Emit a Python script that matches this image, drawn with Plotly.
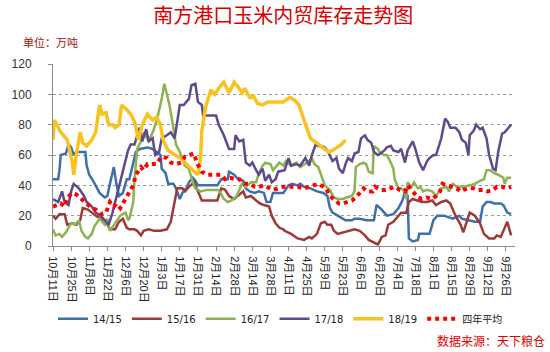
import plotly.graph_objects as go

# x = days after 10月11日, y = 万吨
tick_days = [0, 14, 28, 42, 56, 70, 84, 98, 112, 126, 140, 154, 168, 182, 196, 210, 224, 238, 252, 266, 280, 294, 308, 322, 336, 350]
tick_labels = ["10月11日", "10月25日", "11月8日", "11月22日", "12月6日", "12月20日", "1月3日", "1月17日", "1月31日",
               "2月14日", "2月28日", "3月14日", "3月28日", "4月11日", "4月25日", "5月9日", "5月23日", "6月6日",
               "6月20日", "7月4日", "7月18日", "8月1日", "8月15日", "8月29日", "9月12日", "9月26日"]

s1415 = [(0,44),(4,44),(5,50),(6,60),(10,61),(12,67),(14,65),(16,60),(18,62),(25,62),(26,53),(28,47),(31,43),(33,40),(36,35),(40,32),(42,33),(44,41),(47,52),(49,41),(51,33),(54,35),(57,44),(59,44),(61,51),(64,62),(67,64),(73,65),(77,64),(80,62),(83,60),(84,51),(87,48),(89,41),(93,41),(95,38),(98,31),(100,35),(103,38),(105,42),(108,45),(110,43),(112,40),(119,40),(127,40),(130,44),(135,44),(136,49),(140,47),(143,44),(147,43),(149,38),(152,36),(156,35),(159,36),(163,35),(165,29),(168,29),(170,35),(178,35),(182,40),(185,41),(189,40),(191,41),(194,39),(199,38),(204,36),(209,35),(212,33),(214,25),(216,22),(220,20),(224,18),(226,17),(231,17),(233,18),(237,18),(242,17),(248,17),(250,27),(254,24),(258,20),(263,21),(267,25),(270,30),(272,36),(274,33),(275,5),(278,3),(282,4),(283,8),(291,8),(294,17),(297,20),(302,20),(305,19),(309,18),(314,20),(316,18),(321,17),(326,16),(330,16),(332,26),(335,29),(338,29),(341,28),(346,28),(348,27),(351,22),(354,21)]

s1516 = [(0,20),(2,18),(5,21),(9,21),(11,14),(15,15),(18,14),(21,17),(23,25),(27,24),(30,22),(33,20),(37,18),(41,16),(44,11),(48,11),(51,16),(54,18),(57,12),(59,11),(63,11),(65,10),(68,7),(70,10),(74,11),(78,10),(83,10),(88,11),(91,16),(94,29),(96,38),(100,38),(102,36),(105,39),(109,42),(111,38),(115,30),(127,30),(130,38),(133,37),(136,33),(140,31),(143,33),(147,36),(149,32),(153,33),(157,30),(160,28),(163,27),(167,26),(169,20),(172,15),(175,12),(178,11),(179,10),(184,8),(189,5),(194,4),(198,6),(200,5),(204,8),(207,15),(210,16),(212,14),(215,14),(217,10),(220,8),(224,9),(228,10),(233,11),(237,10),(241,7),(244,4),(248,2),(251,1),(253,4),(254,6),(257,7),(259,14),(263,16),(265,18),(269,22),(273,22),(275,29),(278,31),(282,30),(285,29),(289,29),(293,30),(296,27),(300,29),(304,30),(307,28),(311,20),(315,14),(317,9),(320,16),(322,22),(326,20),(330,15),(333,8),(337,5),(341,5),(343,7),(346,6),(348,10),(351,16),(353,10),(354,7)]

s1617 = [(0,11),(2,7),(5,8),(7,6),(10,9),(14,15),(17,14),(20,17),(22,10),(25,6),(27,5),(30,8),(32,13),(36,18),(40,14),(42,18),(44,10),(48,15),(52,20),(56,22),(58,17),(59,18),(62,29),(63,44),(65,64),(68,69),(70,75),(74,69),(78,77),(81,86),(84,97),(86,107),(88,100),(90,93),(93,78),(95,67),(98,62),(100,58),(102,53),(105,51),(108,42),(110,38),(114,36),(119,37),(128,37),(132,31),(135,29),(138,30),(142,33),(146,41),(149,39),(153,42),(157,42),(159,48),(162,53),(164,55),(168,54),(170,50),(173,53),(175,55),(178,53),(180,56),(184,53),(188,55),(191,52),(195,54),(198,56),(200,58),(202,54),(205,52),(207,47),(210,40),(214,37),(217,32),(220,31),(224,31),(227,32),(231,33),(233,36),(234,52),(237,54),(240,55),(242,54),(244,49),(247,48),(248,66),(251,64),(253,61),(256,60),(258,60),(261,55),(263,51),(264,44),(267,38),(269,38),(272,36),(273,31),(274,42),(277,39),(279,42),(282,38),(284,39),(286,36),(289,37),(293,36),(296,33),(300,38),(304,39),(306,36),(309,41),(312,39),(317,39),(322,40),(326,41),(330,43),(333,44),(335,50),(338,50),(341,48),(344,47),(348,45),(349,41),(351,45),(354,45)]

s1718 = [(0,31),(4,29),(7,36),(9,29),(12,27),(14,36),(16,41),(20,38),(24,33),(26,29),(30,26),(33,22),(37,20),(41,16),(43,14),(46,22),(48,29),(52,42),(56,55),(58,63),(60,67),(63,67),(67,78),(69,69),(72,77),(74,69),(77,71),(79,60),(82,62),(84,71),(88,73),(91,75),(94,71),(96,82),(98,93),(101,93),(105,97),(107,106),(110,107),(112,95),(115,93),(116,86),(126,86),(128,80),(132,73),(136,64),(140,64),(141,73),(144,69),(147,70),(149,55),(152,53),(154,55),(157,50),(159,47),(162,51),(164,43),(167,47),(169,42),(172,44),(174,49),(179,50),(182,58),(184,53),(188,54),(191,53),(195,58),(198,53),(200,60),(203,67),(205,66),(207,66),(210,65),(212,63),(216,56),(219,58),(221,51),(224,48),(226,54),(228,58),(231,56),(233,61),(236,62),(238,71),(241,73),(243,70),(246,68),(248,62),(251,60),(253,61),(256,63),(258,65),(261,66),(263,63),(267,62),(269,64),(272,55),(274,63),(278,69),(280,64),(283,55),(286,50),(289,56),(291,58),(294,60),(296,60),(300,71),(303,84),(305,82),(307,78),(311,78),(314,75),(316,70),(319,68),(321,60),(322,73),(325,76),(327,80),(330,77),(332,78),(335,71),(337,60),(340,51),(342,50),(344,62),(347,74),(349,75),(352,78),(354,80)]

s1819 = [(0,70),(1,83),(6,75),(11,70),(15,55),(16,47),(18,60),(21,75),(23,68),(26,66),(30,70),(33,75),(36,93),(38,87),(41,88),(43,80),(46,80),(48,78),(51,80),(53,93),(57,90),(60,87),(63,82),(66,70),(69,80),(73,87),(77,83),(80,85),(83,80),(85,70),(89,63),(93,61),(96,59),(100,57),(104,53),(108,50),(110,49),(112,47),(114,58),(115,76),(118,92),(122,103),(125,100),(128,104),(132,108),(136,101),(140,108),(143,105),(146,101),(148,104),(152,98),(155,99),(158,94),(162,93),(166,95),(172,95),(178,95),(183,98),(187,96),(190,93),(193,85),(196,78),(199,71),(202,69),(206,67),(210,64),(213,62),(216,63),(220,65),(223,67),(226,70)]

avg4 = [(0,26),(4,27),(6,28),(9,26),(11,32),(15,35),(18,34),(22,31),(26,28),(30,25),(33,24),(37,21),(41,22),(44,29),(47,26),(49,28),(52,25),(54,28),(57,33),(59,36),(62,40),(64,47),(68,52),(70,50),(73,54),(80,54),(84,59),(88,58),(91,55),(95,54),(99,55),(102,59),(106,60),(109,61),(111,55),(115,49),(119,47),(130,47),(133,44),(137,45),(141,44),(144,44),(148,41),(152,41),(156,39),(159,39),(163,40),(167,38),(170,37),(174,38),(178,39),(189,39),(194,38),(198,39),(201,40),(205,41),(209,39),(211,38),(214,33),(217,31),(221,28),(224,28),(227,29),(231,30),(234,32),(237,35),(240,38),(243,36),(247,36),(249,39),(253,37),(257,37),(261,38),(264,39),(268,37),(272,36),(274,40),(278,36),(282,32),(285,31),(289,32),(293,31),(296,33),(299,36),(301,41),(305,40),(309,39),(312,38),(315,36),(317,37),(321,38),(325,38),(328,37),(332,37),(336,36),(340,37),(343,39),(347,39),(351,38),(354,39)]

series = [
    ("14/15", s1415, "#3F6FAA", 2.5, "solid"),
    ("15/16", s1516, "#9C3A38", 2.5, "solid"),
    ("16/17", s1617, "#8CB253", 2.5, "solid"),
    ("17/18", s1718, "#5F4A8B", 2.5, "solid"),
    ("18/19", s1819, "#F6C320", 3.5, "solid"),
    ("四年平均", avg4, "#FF0000", 4, "dot"),
]

fig = go.Figure()
for name, data, color, w, dash in series:
    fig.add_trace(go.Scatter(
        x=[d for d, _ in data], y=[v for _, v in data], name=name, mode="lines",
        line=dict(color=color, width=w, dash=dash),
    ))

base_font = "Liberation Sans, Noto Sans CJK SC, sans-serif"
fig.update_layout(
    width=550, height=352,
    margin=dict(l=33, r=35, t=64, b=106),
    paper_bgcolor="white", plot_bgcolor="white",
    font=dict(family=base_font, size=12, color="#222222"),
    title=dict(text="南方港口玉米内贸库存走势图", x=0.515, xanchor="center", y=0.955, yanchor="middle",
               font=dict(family="Noto Sans CJK SC", size=20, color="#D80000")),
    showlegend=True,
    legend=dict(orientation="h", x=0.0, xanchor="left", y=-0.40, yanchor="middle",
                font=dict(family="DejaVu Sans, Noto Sans CJK SC", size=10, color="#222222"),
                bgcolor="rgba(0,0,0,0)"),
    xaxis=dict(range=[0, 357], tickvals=tick_days, ticktext=tick_labels, tickangle=90,
               showgrid=False, zeroline=False, showline=True, linecolor="#8C8C8C", linewidth=1,
               ticks="outside", ticklen=4, tickcolor="#8C8C8C", ticklabelstandoff=3,
               tickfont=dict(family="Liberation Sans, Noto Sans CJK SC", size=11, color="#222222")),
    yaxis=dict(range=[0, 120], tickvals=[0, 20, 40, 60, 80, 100, 120], showgrid=True,
               gridcolor="#9A9A9A", griddash="dot", gridwidth=1, zeroline=False,
               showline=True, linecolor="#8C8C8C", linewidth=1,
               ticks="outside", ticklen=4, tickcolor="#8C8C8C", ticklabelstandoff=14,
               tickfont=dict(family="Liberation Sans", size=12, color="#333333")),
    annotations=[
        dict(text="单位：万吨", xref="paper", yref="paper", x=-33/482, y=1 + (64 - 42) / 182,
             xanchor="left", yanchor="middle", showarrow=False,
             font=dict(family="Noto Sans CJK SC", size=11, color="#A01010")),
        dict(text="数据来源：天下粮仓", xref="paper", yref="paper", x=(548 - 33) / 482, y=-(340 - 246) / 182,
             xanchor="right", yanchor="middle", showarrow=False,
             font=dict(family="Noto Sans CJK SC", size=12, color="#E00000")),
    ],
)

fig.write_html("out.html")
